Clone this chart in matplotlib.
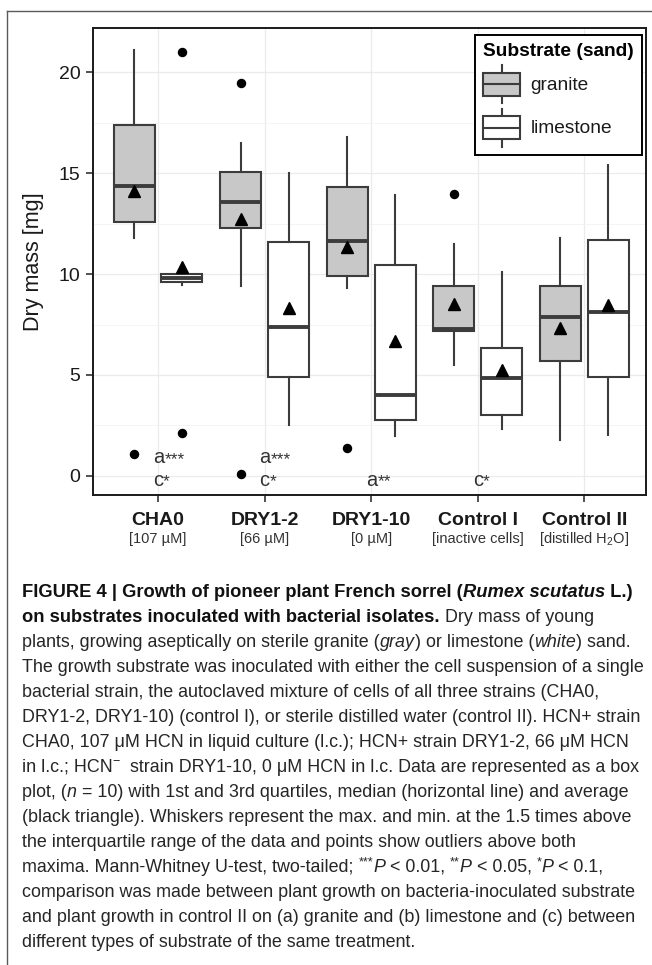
import matplotlib
matplotlib.use("Agg")
import matplotlib.pyplot as plt
from matplotlib.patches import Patch, Rectangle
from matplotlib.lines import Line2D
from matplotlib.legend_handler import HandlerBase
from matplotlib.transforms import blended_transform_factory
import numpy as np

plt.rcParams['font.family'] = ['Liberation Sans', 'DejaVu Sans']
plt.rcParams['mathtext.fontset'] = 'custom'
plt.rcParams['mathtext.rm'] = 'Liberation Sans'
plt.rcParams['mathtext.it'] = 'Liberation Sans:italic'

# data (dry mass, mg)
categories = ["CHA0", "DRY1-2", "DRY1-10", "Control I", "Control II"]
sub_labels = ["[107 µM]", "[66 µM]", "[0 µM]", "[inactive cells]", "[distilled H$_2$O]"]

granite_whislo = [11.8, 9.4, 9.3, 5.5, 1.8]
granite_q1 = [12.6, 12.3, 9.9, 7.2, 5.7]
granite_med = [14.35, 13.55, 11.65, 7.3, 7.85]
granite_q3 = [17.4, 15.05, 14.3, 9.4, 9.4]
granite_whishi = [21.1, 16.5, 16.8, 11.5, 11.8]
granite_mean = [14.1, 12.75, 11.35, 8.5, 7.35]
granite_fliers = [[1.1], [19.45, 0.1], [1.4], [13.95], []]

limestone_whislo = [9.45, 2.5, 1.95, 2.3, 2.0]
limestone_q1 = [9.6, 4.9, 2.75, 3.0, 4.9]
limestone_med = [9.8, 7.4, 4.0, 4.85, 8.1]
limestone_q3 = [10.0, 11.6, 10.45, 6.35, 11.7]
limestone_whishi = [10.1, 15.0, 13.9, 10.1, 15.4]
limestone_mean = [10.35, 8.3, 6.7, 5.25, 8.45]
limestone_fliers = [[21.0, 2.1], [], [], [], []]

# significance letters: (category index, letter, stars, baseline y)
sig_letters = [(0, "a", "***", 0.64), (0, "c", "*", -0.48),
               (1, "a", "***", 0.64), (1, "c", "*", -0.48),
               (2, "a", "**", -0.48), (3, "c", "*", -0.48)]

caption_lines = [
    [("FIGURE 4 | Growth of pioneer plant French sorrel (", 'b'), ("Rumex scutatus", 'bi'), (" L.)", 'b')],
    [("on substrates inoculated with bacterial isolates.", 'b'), (" Dry mass of young", 'r')],
    [("plants, growing aseptically on sterile granite (", 'r'), ("gray", 'i'), (") or limestone (", 'r'),
     ("white", 'i'), (") sand.", 'r')],
    [("The growth substrate was inoculated with either the cell suspension of a single", 'r')],
    [("bacterial strain, the autoclaved mixture of cells of all three strains (CHA0,", 'r')],
    [("DRY1-2, DRY1-10) (control I), or sterile distilled water (control II). HCN+ strain", 'r')],
    [("CHA0, 107 μM HCN in liquid culture (l.c.); HCN+ strain DRY1-2, 66 μM HCN", 'r')],
    [("in l.c.; HCN", 'r'), ("−", 'sup'), ("  strain DRY1-10, 0 μM HCN in l.c. Data are represented as a box", 'r')],
    [("plot, (", 'r'), ("n", 'i'), (" = 10) with 1st and 3rd quartiles, median (horizontal line) and average", 'r')],
    [("(black triangle). Whiskers represent the max. and min. at the 1.5 times above", 'r')],
    [("the interquartile range of the data and points show outliers above both", 'r')],
    [("maxima. Mann-Whitney U-test, two-tailed; ", 'r'), ("***", 'sup'), ("P", 'i'), (" < 0.01, ", 'r'),
     ("**", 'sup'), ("P", 'i'), (" < 0.05, ", 'r'), ("*", 'sup'), ("P", 'i'), (" < 0.1,", 'r')],
    [("comparison was made between plant growth on bacteria-inoculated substrate", 'r')],
    [("and plant growth in control II on (a) granite and (b) limestone and (c) between", 'r')],
    [("different types of substrate of the same treatment.", 'r')],
]

W, H = 652, 965
edge = "#3c3c3c"
granite_fill = "#c8c8c8"

fig = plt.figure(figsize=(W / 100, H / 100), dpi=100)
ax = fig.add_axes([93 / W, 1 - 495 / H, (646 - 93) / W, (495 - 28) / H])

# page frame lines
fig.add_artist(Line2D([7 / W, 1], [1 - 11 / H, 1 - 11 / H], color="#5a5a5a", lw=1.0))
fig.add_artist(Line2D([7 / W, 7 / W], [1 - 11 / H, 0], color="#5a5a5a", lw=1.0))

pos = np.arange(1, len(categories) + 1)
offset = 0.225
bw = 0.385


def make_stats(lo, q1, med, q3, hi, mean, fliers):
    out = []
    for i in range(len(lo)):
        out.append(dict(whislo=lo[i], q1=q1[i], med=med[i], q3=q3[i], whishi=hi[i],
                        mean=mean[i], fliers=fliers[i]))
    return out


common = dict(widths=bw, patch_artist=True, showcaps=False, showmeans=True,
              whiskerprops=dict(color=edge, lw=1.5),
              medianprops=dict(color=edge, lw=2.8, solid_capstyle='butt'),
              meanprops=dict(marker='^', markerfacecolor='black', markeredgecolor='black', markersize=8.5),
              flierprops=dict(marker='o', markerfacecolor='black', markeredgecolor='black', markersize=5.8))

ax.bxp(make_stats(granite_whislo, granite_q1, granite_med, granite_q3, granite_whishi,
                  granite_mean, granite_fliers), positions=pos - offset,
       boxprops=dict(facecolor=granite_fill, edgecolor=edge, lw=1.5), **common)
ax.bxp(make_stats(limestone_whislo, limestone_q1, limestone_med, limestone_q3, limestone_whishi,
                  limestone_mean, limestone_fliers), positions=pos + offset,
       boxprops=dict(facecolor='white', edgecolor=edge, lw=1.5), **common)

ax.set_xlim(0.39, 5.58)
ax.set_ylim(-0.95, 22.2)
ax.set_yticks([0, 5, 10, 15, 20])
ax.set_yticks([2.5, 7.5, 12.5, 17.5], minor=True)
ax.set_xticks(pos)
ax.set_xticklabels([])
ax.tick_params(axis='y', which='minor', length=0)
ax.tick_params(which='major', length=5, width=1.2, color="#333333", labelsize=14, pad=4,
               labelcolor="#1a1a1a")
ax.grid(True, which='major', color="#ebebeb", lw=0.9, zorder=0)
ax.grid(True, which='minor', axis='y', color="#f2f2f2", lw=0.6, zorder=0)
ax.set_axisbelow(True)
for sp in ax.spines.values():
    sp.set_linewidth(1.4)
    sp.set_color("#1a1a1a")

# category labels
tr = blended_transform_factory(ax.transData, fig.transFigure)
for p, name, sub in zip(pos, categories, sub_labels):
    ax.text(p, 1 - 525 / H, name, transform=tr, ha='center', va='baseline',
            fontsize=14, fontweight='bold', color="#1a1a1a")
    ax.text(p, 1 - 543 / H, sub, transform=tr, ha='center', va='baseline',
            fontsize=10.5, color="#333333")

fig.text(33 / W, 1 - 262 / H, "Dry mass [mg]", rotation=90, ha='center', va='center',
         fontsize=15.5, color="#1a1a1a")

# significance letters
for ci, letter, stars, yv in sig_letters:
    t = ax.text(pos[ci] - 0.047, yv, letter, ha='left', va='baseline', fontsize=14.5, color="#333333")
    ax.annotate(stars, xy=(1.0, 0.0), xycoords=t, ha='left', va='bottom', fontsize=12.5, color="#333333")


class BoxHandler(HandlerBase):
    def create_artists(self, legend, orig_handle, xdescent, ydescent, width, height, fontsize, trans):
        x0, y0 = -xdescent, -ydescent
        fc = orig_handle.get_facecolor()
        bh = height * 0.6
        by = y0 + (height - bh) / 2
        xm = x0 + width / 2
        wl = Line2D([xm, xm], [y0, by], color=edge, lw=1.5, transform=trans)
        wh = Line2D([xm, xm], [by + bh, y0 + height], color=edge, lw=1.5, transform=trans)
        rect = Rectangle((x0, by), width, bh, facecolor=fc, edgecolor=edge, lw=1.5, transform=trans)
        med = Line2D([x0, x0 + width], [by + bh / 2] * 2, color=edge, lw=1.5, transform=trans)
        return [wl, wh, rect, med]


handles = [Patch(facecolor=granite_fill, edgecolor=edge), Patch(facecolor='white', edgecolor=edge)]
leg = ax.legend(handles, ["granite", "limestone"], handler_map={Patch: BoxHandler()},
                loc='upper right', bbox_to_anchor=(0.993, 0.985), borderaxespad=0,
                title="Substrate (sand)", title_fontproperties=dict(weight='bold', size=13.8),
                alignment='left', fontsize=13.8, handlelength=1.9, handleheight=2.67,
                handletextpad=0.55, labelspacing=0.28, borderpad=0.42, fancybox=False,
                framealpha=1, edgecolor='black')
leg.get_frame().set_linewidth(1.4)
for txt in leg.get_texts():
    txt.set_color("#1a1a1a")

# caption: segments placed one after another along each baseline
cap_family = ['Liberation Sans Narrow', 'Liberation Sans', 'DejaVu Sans']
renderer = fig.canvas.get_renderer()


def seg_kw(fmt, size, bold_scale=1.0):
    kw = dict(family=cap_family, fontsize=size, color="#262626")
    if 'b' in fmt:
        kw['fontweight'] = 'bold'
        kw['color'] = "#111111"
        kw['fontsize'] = size * bold_scale
    if 'i' in fmt:
        kw['fontstyle'] = 'italic'
    if fmt == 'sup':
        kw['fontsize'] = size * 0.7
    return kw


def advance(s, kw):
    t1 = fig.text(0, 0, "x" + s + "x", **kw)
    t2 = fig.text(0, 0, "xx", **kw)
    w = t1.get_window_extent(renderer).width - t2.get_window_extent(renderer).width
    t1.remove()
    t2.remove()
    return w


base = 12.0
ref_w = advance(caption_lines[3][0][0], seg_kw('r', base))
cap_size = base * 623 / ref_w
# bold heading a little wider, as in the original typesetting
w1 = sum(advance(s, seg_kw(f, cap_size)) for s, f in caption_lines[0])
bold_scale = 613 / w1

x_left, y0, pitch = 22, 597, 25
for i, line in enumerate(caption_lines):
    x = x_left
    yb = y0 + i * pitch
    for s, fmt in line:
        kw = seg_kw(fmt, cap_size, bold_scale)
        dy = cap_size * 100 / 72 * 0.38 if fmt == 'sup' else 0
        fig.text(x / W, 1 - (yb - dy) / H, s, ha='left', va='baseline', **kw)
        x += advance(s, kw)

fig.savefig("out.png", dpi=100)
